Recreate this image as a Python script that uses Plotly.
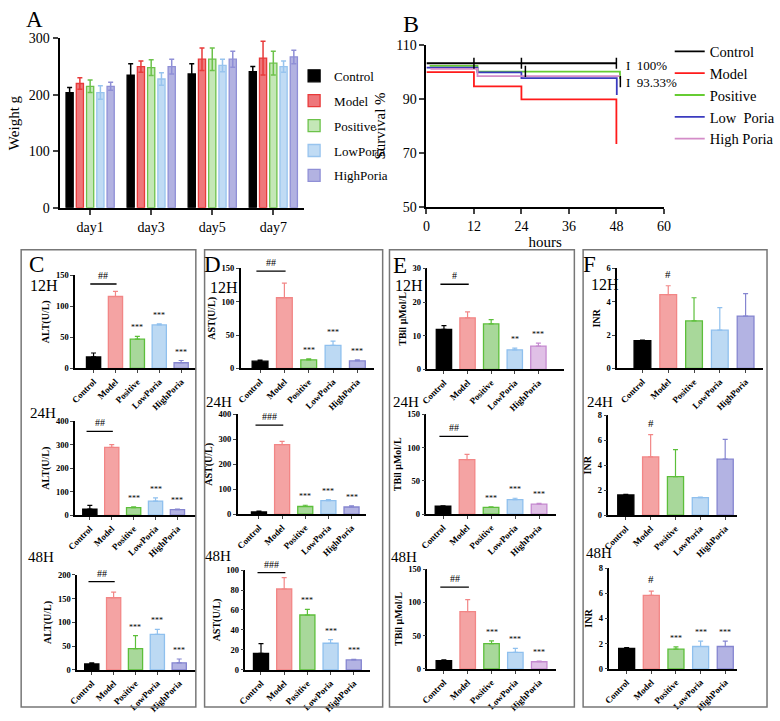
import plotly.graph_objects as go

W, H = 780, 721
SERIF = "Liberation Serif"


def px(x):
    return x / W


def py(y):
    return 1 - y / H


# ---------------- data ----------------
groups = ["Control", "Model", "Positive", "LowPoria", "HighPoria"]
days = ["day1", "day3", "day5", "day7"]

weight_control = [204, 235, 237, 241]
weight_control_err = [9, 20, 18, 9]
weight_model = [220, 250, 263, 265]
weight_model_err = [10, 10, 20, 30]
weight_positive = [215, 248, 263, 256]
weight_positive_err = [11, 14, 20, 21]
weight_lowporia = [204, 228, 252, 250]
weight_lowporia_err = [12, 11, 11, 10]
weight_highporia = [215, 250, 263, 267]
weight_highporia_err = [7, 13, 14, 12]

surv_names = ["Control", "Model", "Positive", "Low  Poria", "High Poria"]
surv_hours_control = [0, 48]
surv_control = [103.3, 103.3]
surv_hours_model = [0, 12, 24, 48]
surv_model = [100, 94.7, 89.9, 73.3]
surv_hours_positive = [0.8, 12.9, 48.9]
surv_positive = [102.3, 100.2, 97.5]
surv_hours_lowporia = [0, 12.9, 24, 48.1]
surv_lowporia = [101.7, 99.9, 97.8, 91.5]
surv_hours_highporia = [1, 12.9, 48.9]
surv_highporia = [101.2, 98.5, 98.5]
censor_hours = [12, 24, 48, 25, 49]
censor_values = [103.3, 103.3, 103.3, 100.3, 96.5]

alt_12h = [18.4, 115.8, 47, 70, 9]
alt_12h_err = [6.3, 8.2, 4.6, 1.6, 3.6]
alt_24h = [26, 289, 32, 60, 23.6]
alt_24h_err = [16, 11, 4, 14, 2.4]
alt_48h = [12.4, 152, 45, 75, 15]
alt_48h_err = [2.6, 12, 27, 10.5, 8]

ast_12h = [10.8, 106, 12.8, 34.5, 11.3]
ast_12h_err = [1.5, 22, 1.5, 6.5, 1.5]
ast_24h = [9, 279, 31, 54.5, 29]
ast_24h_err = [4, 13, 5, 4, 5]
ast_48h = [16.6, 81, 55, 26.7, 10]
ast_48h_err = [9.8, 11.5, 5.6, 3.6, 0.7]

tbil_12h = [11.9, 15.3, 13.5, 5.8, 6.9]
tbil_12h_err = [1.1, 1.8, 1.3, 0.5, 0.9]
tbil_24h = [12, 82, 10.4, 22, 15.2]
tbil_24h_err = [0.6, 8, 0.6, 2, 1.3]
tbil_48h = [12.3, 86, 38, 25, 10.8]
tbil_48h_err = [1.4, 18, 4, 6, 1]

inr_12h = [1.66, 4.43, 2.85, 2.29, 3.14]
inr_12h_err = [0.04, 0.53, 1.39, 1.36, 1.35]
inr_24h = [1.62, 4.67, 3.09, 1.4, 4.49]
inr_24h_err = [0.05, 1.79, 2.16, 0.05, 1.58]
inr_48h = [1.63, 5.83, 1.57, 1.78, 1.78]
inr_48h_err = [0.07, 0.34, 0.18, 0.42, 0.42]

stars_3 = ["", "", "***", "***", "***"]
stars_tbil_12h = ["", "", "", "**", "***"]
stars_none = ["", "", "", "", ""]

# ---------------- styles ----------------
A_fill = ["rgba(0,0,0,1)", "rgba(235,95,100,0.85)", "rgba(190,228,175,0.9)",
          "rgba(185,215,243,0.9)", "rgba(170,170,222,0.9)"]
A_line = ["#000000", "#e83a3a", "#6cc24a", "#98c4ee", "#8f8fd6"]

bot_fill = ["#000000", "#f4a3a3", "#a8d89a", "#bcd9f3", "#b3b3e3"]
bot_line = ["#000000", "#f28686", "#5cbf3a", "#8fc0ee", "#8585d0"]
bot_fill_E = ["#000000", "#f4a3a3", "#a8d89a", "#bcd9f3", "#e0c0e6"]
bot_line_E = ["#000000", "#f28686", "#5cbf3a", "#8fc0ee", "#c58ad0"]

surv_colors = ["#000000", "#ff1a1a", "#66cc33", "#3b3bbf", "#d48cc8"]

fig = go.Figure()

# ---------------- Panel A ----------------
A_vals = [weight_control, weight_model, weight_positive, weight_lowporia, weight_highporia]
A_errs = [weight_control_err, weight_model_err, weight_positive_err,
          weight_lowporia_err, weight_highporia_err]
for i, g in enumerate(groups):
    fig.add_trace(go.Bar(
        x=days, y=A_vals[i], name=g, legend="legend", legendgroup="a" + g,
        marker=dict(color=A_fill[i], line=dict(color=A_line[i], width=1.3)),
        error_y=dict(type="data", array=A_errs[i], color=A_line[i] if i else "#000",
                     thickness=1.5, width=2.5),
        xaxis="x", yaxis="y"))

# ---------------- Panel B ----------------
B_h = [surv_hours_control, surv_hours_model, surv_hours_positive,
       surv_hours_lowporia, surv_hours_highporia]
B_v = [surv_control, surv_model, surv_positive, surv_lowporia, surv_highporia]
for i, g in enumerate(surv_names):
    fig.add_trace(go.Scatter(
        x=B_h[i], y=B_v[i], name=g, mode="lines", line_shape="hv",
        line=dict(color=surv_colors[i], width=1.8),
        legend="legend2", legendgroup="b" + g, xaxis="x2", yaxis="y2"))
fig.add_trace(go.Scatter(
    x=censor_hours, y=censor_values, mode="markers", showlegend=False,
    marker=dict(symbol="line-ns", size=8, line=dict(color="black", width=1.5)),
    xaxis="x2", yaxis="y2"))

# ---------------- bottom panels ----------------
panels = [
    # n, vals, errs, x0, x1, ytop, ybot, xrange, ymax, dtick, ytitle, bracket, bracket_y, stars, fills, lines, hash_model
    (3, alt_12h, alt_12h_err, 68, 192, 274, 369, [-0.84, 4.67], 150, 50, "ALT(U/L)", "##", 136, stars_3, bot_fill, bot_line, ""),
    (4, alt_24h, alt_24h_err, 68, 192, 423, 519, [-0.67, 4.84], 400, 100, "ALT(U/L)", "##", 357, stars_3, bot_fill, bot_line, ""),
    (5, alt_48h, alt_48h_err, 70, 192, 580, 677, [-0.67, 4.76], 200, 50, "ALT(U/L)", "##", 186, stars_3, bot_fill, bot_line, ""),
    (6, ast_12h, ast_12h_err, 238, 375, 267, 369, [-0.8, 4.68], 150, 50, "AST(U/L)", "##", 146, stars_3, bot_fill, bot_line, ""),
    (7, ast_24h, ast_24h_err, 235, 367, 416, 518, [-0.92, 4.63], 400, 100, "AST(U/L)", "###", 357, stars_3, bot_fill, bot_line, ""),
    (8, ast_48h, ast_48h_err, 243, 371, 575, 677, [-0.67, 4.7], 100, 20, "AST(U/L)", "###", 97.5, stars_3, bot_fill, bot_line, ""),
    (9, tbil_12h, tbil_12h_err, 430, 570, 267, 370, [-0.7, 5.07], 30, 10, "TBil μMol/L", "#", 25.3, stars_tbil_12h, bot_fill_E, bot_line_E, ""),
    (10, tbil_24h, tbil_24h_err, 429, 562, 416, 518, [-0.69, 4.7], 150, 50, "TBil μMol/L", "##", 117, stars_3, bot_fill_E, bot_line_E, ""),
    (11, tbil_48h, tbil_48h_err, 430, 562, 574, 676, [-0.69, 4.7], 150, 50, "TBil μMol/L", "##", 123, stars_3, bot_fill_E, bot_line_E, ""),
    (12, inr_12h, inr_12h_err, 625, 775, 267, 369, [-0.98, 4.68], 6, 2, "INR", "", 0, stars_none, bot_fill, bot_line, "#"),
    (13, inr_24h, inr_24h_err, 616, 748, 417, 519, [-0.7, 4.47], 8, 2, "INR", "", 0, stars_none, bot_fill, bot_line, "#"),
    (14, inr_48h, inr_48h_err, 617, 748, 573, 676, [-0.7, 4.47], 8, 2, "INR", "", 0, stars_3, bot_fill, bot_line, "#"),
]

layout_axes = {}
annotations = []
shapes = []

tick_font_x = dict(family=SERIF, size=9, color="black", weight="bold")
tick_font_y = dict(family=SERIF, size=8.5, color="black", weight="bold")
for (n, vals, errs, x0, x1, yt, yb, xr, ymax, dt, ytitle, br, bry, stars, fills, lines, hashm) in panels:
    xa, ya = f"x{n}", f"y{n}"
    for i in range(5):
        fig.add_trace(go.Bar(
            x=[i], y=[vals[i]], width=0.65, offset=-0.325, showlegend=False,
            marker=dict(color=fills[i], line=dict(color=lines[i], width=1.3)),
            error_y=dict(type="data", symmetric=False, array=[errs[i]], arrayminus=[0],
                         color=lines[i], thickness=1.2, width=2.5),
            xaxis=xa, yaxis=ya))
        if stars[i]:
            annotations.append(dict(x=i, y=vals[i] + errs[i], xref=xa, yref=ya, text=stars[i],
                                    showarrow=False, yanchor="bottom", yshift=2,
                                    font=dict(family=SERIF, size=8, color="black")))
    if hashm:
        annotations.append(dict(x=1, y=vals[1] + errs[1], xref=xa, yref=ya, text=hashm,
                                showarrow=False, yanchor="bottom", yshift=4,
                                font=dict(family=SERIF, size=11, color="black")))
    if br:
        shapes.append(dict(type="line", xref=xa, yref=ya, x0=-0.15, x1=1.05, y0=bry, y1=bry,
                           line=dict(color="black", width=1.3)))
        annotations.append(dict(x=0.45, y=bry, xref=xa, yref=ya, text=br, showarrow=False,
                                yanchor="bottom", yshift=1,
                                font=dict(family=SERIF, size=10, color="black")))
    layout_axes[f"xaxis{n}"] = dict(
        domain=[px(x0), px(x1)], anchor=ya, range=xr, tickvals=list(range(5)),
        ticktext=groups, tickangle=-45, tickfont=tick_font_x,
        showline=True, linecolor="black", linewidth=1.5, ticks="outside",
        ticklen=3, tickwidth=1.2, showgrid=False, zeroline=False)
    layout_axes[f"yaxis{n}"] = dict(
        domain=[py(yb), py(yt)], anchor=xa, range=[0, ymax], dtick=dt,
        tickfont=tick_font_y, showline=True, linecolor="black", linewidth=1.5,
        ticks="outside", ticklen=3, tickwidth=1.2, showgrid=False, zeroline=False,
        title=dict(text=ytitle, standoff=4,
                   font=dict(family=SERIF, size=10, color="black", weight="bold")))

# ---------------- text labels ----------------
def lab(x, y, t, size):
    annotations.append(dict(x=px(x), y=py(y), xref="paper", yref="paper", text=t,
                            showarrow=False, xanchor="left", yanchor="middle",
                            font=dict(family=SERIF, size=size, color="black")))

lab(15, 13, "A", 23)
lab(403, 17, "B", 24)
for (xl, yl, L, hx, h12, h24, h48, hx48, hx24) in [
    (19, 263, "C", 20, 284, 415, 562, 17, 20),
    (198, 263, "D", 204, 286, 403, 561, 199, 200),
    (393, 264, "E", 395, 284, 403, 562, 391, 393),
    (588, 263, "F", 596, 283, 403, 558, 591, 592),
]:
    lab(xl, yl, L, 23)
    lab(hx, h12, "12H", 16)
    lab(hx24, h24, "24H", 15)
    lab(hx48, h48, "48H", 15)

annotations.append(dict(x=px(632), y=py(60), xref="paper", yref="paper", text="I  100%",
                        showarrow=False, xanchor="left", yanchor="middle",
                        font=dict(family=SERIF, size=13, color="black")))
annotations.append(dict(x=px(632), y=py(77), xref="paper", yref="paper", text="I  93.33%",
                        showarrow=False, xanchor="left", yanchor="middle",
                        font=dict(family=SERIF, size=13, color="black")))

# boxes
for (bx0, bx1) in [(12.5, 192), (201, 384), (391, 581), (590, 779)]:
    shapes.append(dict(type="rect", xref="paper", yref="paper", x0=px(bx0), x1=px(bx1),
                       y0=py(715), y1=py(248), line=dict(color="#777777", width=1.5)))

fig.update_layout(
    width=W, height=H, margin=dict(l=0, r=0, t=0, b=0),
    paper_bgcolor="white", plot_bgcolor="white",
    barmode="group", bargap=0.16, bargroupgap=0.3,
    font=dict(family=SERIF, color="black"),
    xaxis=dict(domain=[px(52), px(303)], anchor="y", showline=True, linecolor="black",
               linewidth=2, ticks="outside", ticklen=5, tickwidth=2, showgrid=False,
               tickfont=dict(family=SERIF, size=14, color="black")),
    yaxis=dict(domain=[py(205), py(32)], anchor="x", range=[0, 300], dtick=100,
               showline=True, linecolor="black", linewidth=2, ticks="outside",
               ticklen=5, tickwidth=2, showgrid=False, zeroline=False,
               tickfont=dict(family=SERIF, size=14, color="black"),
               title=dict(text="Weight g", standoff=6,
                          font=dict(family=SERIF, size=15, color="black"))),
    xaxis2=dict(domain=[px(429), px(673)], anchor="y2", range=[0, 60],
                tickvals=[0, 12, 24, 36, 48, 60], showline=True, linecolor="black",
                linewidth=2, ticks="outside", ticklen=5, tickwidth=2, showgrid=False,
                zeroline=False, tickfont=dict(family=SERIF, size=14, color="black"),
                title=dict(text="hours", standoff=3,
                           font=dict(family=SERIF, size=15, color="black"))),
    yaxis2=dict(domain=[py(204), py(39)], anchor="x2", range=[50, 110],
                tickvals=[50, 70, 90, 110], showline=True, linecolor="black",
                linewidth=2, ticks="outside", ticklen=5, tickwidth=2, showgrid=False,
                zeroline=False, tickfont=dict(family=SERIF, size=14, color="black"),
                title=dict(text="Survival %", standoff=7,
                           font=dict(family=SERIF, size=15, color="black"))),
    legend=dict(x=px(293), y=py(55), xanchor="left", yanchor="top",
                font=dict(family=SERIF, size=13, color="black"),
                bgcolor="rgba(0,0,0,0)", tracegroupgap=5, traceorder="grouped"),
    legend2=dict(x=px(679), y=py(29), xanchor="left", yanchor="top",
                 font=dict(family=SERIF, size=14.5, color="black"),
                 bgcolor="rgba(0,0,0,0)", tracegroupgap=0, traceorder="grouped"),
    annotations=annotations, shapes=shapes,
    **layout_axes,
)

fig.write_html("out.html")
